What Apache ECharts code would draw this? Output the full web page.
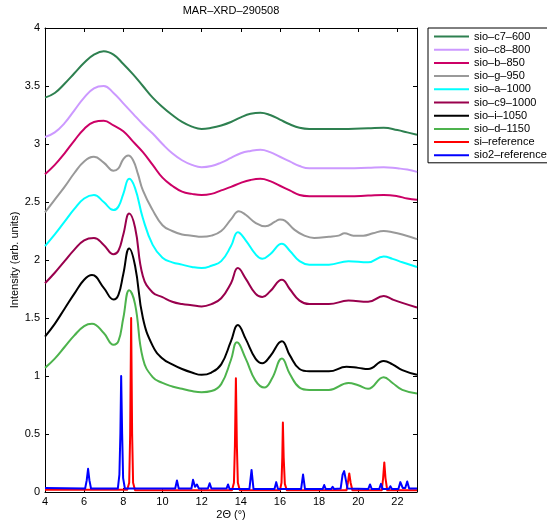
<!DOCTYPE html>
<html>
<head>
<meta charset="utf-8">
<script src="https://cdn.jsdelivr.net/npm/echarts@6/dist/echarts.min.js"></script>
<style>
  html, body { margin: 0; padding: 0; background: #fff; }
  #chart { width: 547px; height: 520px; }
</style>
</head>
<body>
<div id="chart"></div>
<script>
// XRD patterns, vertically offset, [2-theta, intensity]
const sioC7_600 = [[4,3.40],[4.5,3.44],[5,3.52],[5.5,3.61],[6,3.70],[6.5,3.77],[7,3.80],[7.5,3.77],[8,3.69],[8.5,3.60],[9,3.50],[9.5,3.40],[10,3.32],[10.5,3.25],[11,3.19],[11.5,3.15],[12,3.13],[12.5,3.14],[13,3.16],[13.5,3.19],[14,3.23],[14.5,3.26],[15,3.27],[15.5,3.25],[16,3.21],[16.5,3.17],[17,3.14],[17.5,3.13],[18.5,3.13],[19.5,3.13],[20.5,3.135],[21.3,3.14],[22,3.12],[22.5,3.10],[23,3.08]];
const sioC8_800 = [[4,3.06],[4.5,3.10],[5,3.18],[5.5,3.29],[6,3.40],[6.5,3.48],[7,3.50],[7.5,3.44],[8,3.35],[8.5,3.26],[9,3.17],[9.5,3.09],[10,3.00],[10.5,2.92],[11,2.86],[11.5,2.82],[12,2.80],[12.5,2.81],[13,2.84],[13.5,2.88],[14,2.92],[14.5,2.94],[15,2.95],[15.5,2.93],[16,2.89],[16.5,2.85],[17,2.81],[17.5,2.79],[18.5,2.79],[19.5,2.79],[20.5,2.795],[21.3,2.80],[22,2.79],[22.5,2.78],[23,2.76]];
const sioB_850 = [[4,2.74],[4.5,2.82],[5,2.92],[5.5,3.03],[6,3.13],[6.5,3.19],[7,3.20],[7.5,3.16],[8,3.11],[8.5,3.02],[9,2.93],[9.5,2.82],[10,2.71],[10.5,2.64],[11,2.59],[11.5,2.57],[12,2.56],[12.5,2.57],[13,2.60],[13.5,2.63],[14,2.665],[14.5,2.69],[15,2.70],[15.5,2.68],[16,2.64],[16.5,2.60],[17,2.56],[17.5,2.55],[18.5,2.55],[19.5,2.55],[20.5,2.555],[21.3,2.56],[22,2.55],[22.5,2.53],[23,2.52]];
const sioG_950 = [[4,2.41],[4.5,2.52],[5,2.63],[5.5,2.75],[6,2.85],[6.5,2.89],[7,2.84],[7.5,2.77],[7.75,2.79],[8,2.87],[8.25,2.90],[8.5,2.86],[8.75,2.74],[9,2.60],[9.5,2.43],[10,2.30],[10.5,2.25],[11,2.22],[11.5,2.21],[12,2.20],[12.5,2.21],[13,2.25],[13.5,2.35],[13.9,2.42],[14.25,2.39],[14.75,2.32],[15.25,2.29],[15.75,2.33],[16,2.35],[16.25,2.34],[16.75,2.26],[17.25,2.21],[17.75,2.19],[18.5,2.20],[19,2.21],[19.3,2.23],[19.75,2.21],[20.25,2.21],[20.75,2.23],[21.3,2.25],[21.75,2.24],[22.25,2.22],[23,2.18]];
const sioA_1000 = [[4,2.12],[4.5,2.22],[5,2.33],[5.5,2.44],[6,2.53],[6.5,2.56],[7,2.50],[7.5,2.43],[7.75,2.46],[8,2.57],[8.3,2.70],[8.6,2.62],[9,2.36],[9.5,2.13],[10,2.02],[10.5,1.98],[11,1.96],[11.5,1.94],[12,1.93],[12.5,1.95],[13,1.99],[13.5,2.12],[13.85,2.24],[14.25,2.17],[14.75,2.05],[15.1,2.01],[15.5,2.05],[16.1,2.14],[16.5,2.08],[17,1.99],[17.5,1.96],[18.5,1.96],[19.5,1.99],[20.5,1.98],[21.3,2.03],[21.75,2.01],[22.25,1.98],[23,1.94]];
const sioC9_1000 = [[4,1.80],[4.5,1.89],[5,1.99],[5.5,2.09],[6,2.17],[6.5,2.19],[7,2.13],[7.5,2.05],[7.75,2.08],[8,2.22],[8.3,2.40],[8.6,2.28],[9,1.86],[9.5,1.72],[10,1.68],[10.5,1.64],[11,1.62],[11.5,1.61],[12,1.60],[12.5,1.62],[13,1.67],[13.5,1.80],[13.85,1.93],[14.25,1.84],[14.75,1.71],[15.1,1.68],[15.5,1.73],[16.1,1.83],[16.5,1.75],[17,1.65],[17.5,1.62],[18.5,1.62],[19.5,1.65],[20.5,1.64],[21.3,1.69],[21.75,1.66],[22.25,1.63],[23,1.59]];
const sioI_1050 = [[4,1.34],[4.5,1.45],[5,1.58],[5.5,1.71],[6,1.83],[6.4,1.87],[7,1.76],[7.5,1.66],[7.75,1.70],[8,1.88],[8.3,2.10],[8.6,1.95],[9,1.50],[9.5,1.26],[10,1.15],[10.5,1.10],[11,1.06],[11.5,1.03],[12,1.01],[12.5,1.03],[13,1.10],[13.5,1.30],[13.85,1.44],[14.25,1.32],[14.75,1.15],[15.1,1.11],[15.5,1.17],[16.1,1.30],[16.5,1.18],[17,1.06],[17.5,1.04],[18.5,1.04],[19.4,1.08],[20,1.07],[20.5,1.06],[21.3,1.13],[21.75,1.10],[22.25,1.05],[23,1.01]];
const sioD_1150 = [[4,1.07],[4.5,1.15],[5,1.25],[5.5,1.35],[6,1.43],[6.4,1.45],[7,1.37],[7.5,1.27],[7.75,1.30],[8,1.50],[8.3,1.74],[8.6,1.62],[9,1.15],[9.5,0.99],[10,0.94],[10.5,0.91],[11,0.89],[11.5,0.87],[12,0.86],[12.5,0.87],[13,0.93],[13.5,1.14],[13.8,1.29],[14.25,1.15],[14.75,0.96],[15.2,0.90],[15.6,0.98],[16.1,1.15],[16.5,1.02],[17,0.90],[17.5,0.88],[18.5,0.88],[19.5,0.94],[20,0.92],[20.5,0.89],[21.3,0.99],[21.75,0.94],[22.25,0.88],[23,0.85]];
const siReference = [[4,0.02],[8.2,0.02],[8.3,0.08],[8.35,0.5],[8.4,1.5],[8.45,0.5],[8.5,0.08],[8.6,0.015],[13.55,0.015],[13.65,0.08],[13.7,0.4],[13.75,0.98],[13.8,0.4],[13.85,0.08],[13.95,0.015],[16.0,0.015],[16.08,0.08],[16.12,0.3],[16.15,0.6],[16.19,0.3],[16.25,0.07],[16.35,0.015],[19.4,0.015],[19.47,0.08],[19.54,0.16],[19.61,0.08],[19.7,0.015],[21.2,0.015],[21.27,0.12],[21.33,0.255],[21.39,0.12],[21.48,0.015],[23,0.015]];
const sio2Reference = [[4,0.035],[6.05,0.03],[6.13,0.1],[6.2,0.2],[6.27,0.1],[6.35,0.03],[7.72,0.03],[7.8,0.15],[7.85,0.5],[7.89,1.0],[7.94,0.5],[7.99,0.12],[8.08,0.03],[10.65,0.03],[10.74,0.1],[10.83,0.03],[11.48,0.03],[11.56,0.105],[11.66,0.045],[11.76,0.065],[11.86,0.03],[12.32,0.03],[12.41,0.075],[12.5,0.03],[13.27,0.03],[13.35,0.065],[13.43,0.025],[14.44,0.025],[14.55,0.19],[14.65,0.025],[15.72,0.025],[15.81,0.085],[15.9,0.025],[17.08,0.025],[17.18,0.15],[17.28,0.025],[18.18,0.025],[18.26,0.06],[18.34,0.025],[18.61,0.025],[18.69,0.045],[18.77,0.025],[19.1,0.03],[19.2,0.15],[19.28,0.18],[19.37,0.1],[19.45,0.03],[20.51,0.025],[20.6,0.065],[20.69,0.025],[21.07,0.025],[21.16,0.07],[21.25,0.025],[21.56,0.025],[21.64,0.05],[21.72,0.025],[22.05,0.025],[22.15,0.085],[22.27,0.035],[22.4,0.035],[22.5,0.09],[22.6,0.03],[23,0.03]];

const seriesNames = ['sio–c7–600','sio–c8–800','sio–b–850','sio–g–950','sio–a–1000','sio–c9–1000','sio–i–1050','sio–d–1150','si–reference','sio2–reference'];
const seriesColors = ['#2e8050','#cc99ff','#cc0066','#999999','#00ffff','#99004d','#000000','#4db34d','#ff0000','#0000ff'];
const seriesData = [sioC7_600, sioC8_800, sioB_850, sioG_950, sioA_1000, sioC9_1000, sioI_1050, sioD_1150, siReference, sio2Reference];
const xTicks = {min: 4, max: 23, step: 2};
const yTicks = {min: 0, max: 4, step: 0.5};

const FONT = 'Liberation Sans, Arial, Helvetica, sans-serif';
const chart = echarts.init(document.getElementById('chart'), null, {renderer: 'canvas'});

const series = seriesData.map((d, i) => ({
  name: seriesNames[i],
  type: 'line',
  data: d,
  showSymbol: false,
  symbol: 'none',
  smooth: i < 8 ? 0.45 : false,
  lineStyle: {color: seriesColors[i], width: 2, join: 'round'},
  itemStyle: {color: seriesColors[i]},
  animation: false
}));

const baseTick = {show: true, inside: true, length: 4, lineStyle: {color: '#000', width: 1}};
const baseLine = {show: true, onZero: false, lineStyle: {color: '#000', width: 1}};

chart.setOption({
  animation: false,
  backgroundColor: '#fff',
  grid: {left: 45, right: 130, top: 28, bottom: 28, containLabel: false, outerBoundsMode: 'none'},
  graphic: [{
    type: 'text', x: 231, y: 11,
    style: {text: 'MAR–XRD–290508', font: '11px ' + FONT, fill: '#000', textAlign: 'center', textVerticalAlign: 'middle'}
  }],
  legend: {
    orient: 'vertical',
    left: 428, top: 28,
    padding: [2, 4, 1, 6],
    itemGap: 0.2,
    itemWidth: 35, itemHeight: 2,
    icon: 'rect',
    borderColor: '#000', borderWidth: 1,
    backgroundColor: '#fff',
    textStyle: {fontFamily: FONT, fontSize: 11, color: '#000', lineHeight: 13},
    data: seriesNames
  },
  xAxis: [{
    type: 'value', position: 'bottom',
    min: xTicks.min, max: xTicks.max, interval: xTicks.step,
    axisLine: baseLine, axisTick: baseTick,
    axisLabel: {color: '#000', fontFamily: FONT, fontSize: 11, margin: 4, showMaxLabel: false},
    splitLine: {show: false},
    name: '2Θ (°)', nameLocation: 'middle', nameGap: 17, nameMoveOverlap: false,
    nameTextStyle: {color: '#000', fontFamily: FONT, fontSize: 11}
  }, {
    type: 'value', position: 'top',
    min: xTicks.min, max: xTicks.max, interval: xTicks.step,
    axisLine: baseLine, axisTick: baseTick,
    axisLabel: {show: false}, splitLine: {show: false}
  }],
  yAxis: [{
    type: 'value', position: 'left',
    min: yTicks.min, max: yTicks.max, interval: yTicks.step,
    axisLine: baseLine, axisTick: baseTick,
    axisLabel: {color: '#000', fontFamily: FONT, fontSize: 11, margin: 5},
    splitLine: {show: false},
    name: 'Intensity (arb. units)', nameLocation: 'middle', nameGap: 25, nameMoveOverlap: false,
    nameTextStyle: {color: '#000', fontFamily: FONT, fontSize: 11}
  }, {
    type: 'value', position: 'right',
    min: yTicks.min, max: yTicks.max, interval: yTicks.step,
    axisLine: baseLine, axisTick: baseTick,
    axisLabel: {show: false}, splitLine: {show: false}
  }],
  series: series
});
</script>
</body>
</html>
